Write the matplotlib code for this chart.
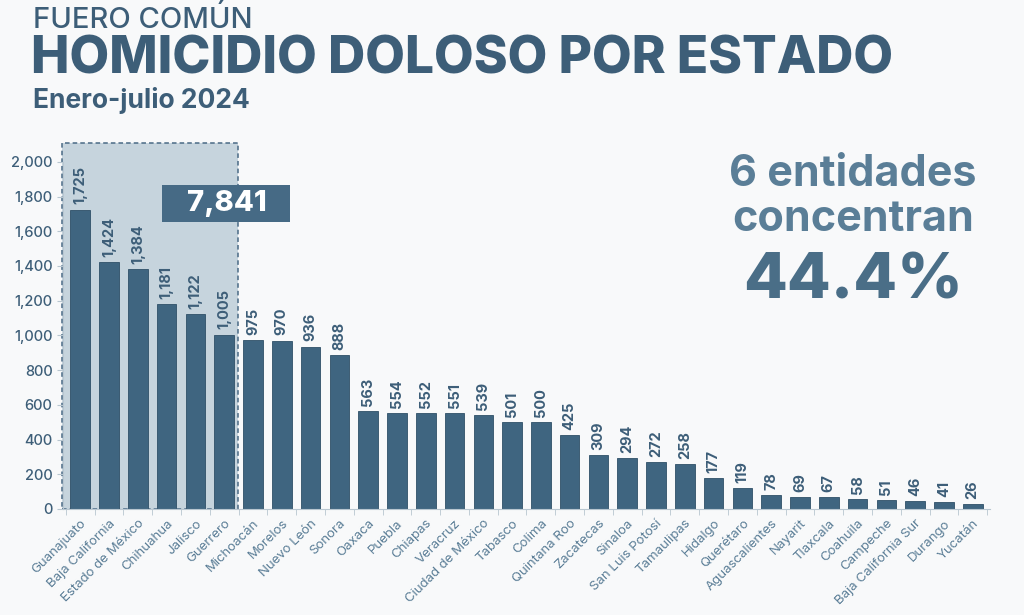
import matplotlib
matplotlib.use("Agg")
import matplotlib.pyplot as plt
from matplotlib.patches import Rectangle
import numpy as np

STATES = [
    "Guanajuato", "Baja California", "Estado de México", "Chihuahua", "Jalisco",
    "Guerrero", "Michoacán", "Morelos", "Nuevo León", "Sonora", "Oaxaca", "Puebla",
    "Chiapas", "Veracruz", "Ciudad de México", "Tabasco", "Colima", "Quintana Roo",
    "Zacatecas", "Sinaloa", "San Luis Potosí", "Tamaulipas", "Hidalgo", "Querétaro",
    "Aguascalientes", "Nayarit", "Tlaxcala", "Coahuila", "Campeche",
    "Baja California Sur", "Durango", "Yucatán",
]
VICTIMS = [
    1725, 1424, 1384, 1181, 1122, 1005, 975, 970, 936, 888, 563, 554,
    552, 551, 539, 501, 500, 425, 309, 294, 272, 258, 177, 119,
    78, 69, 67, 58, 51, 46, 41, 26,
]
TOP_N = 6
TOP_TOTAL = "7,841"
TOP_SHARE = "44.4%"

BAR_COLOR = "#3f6580"
TEXT_DARK = "#3d5e78"
TEXT_LIGHT = "#5a7d96"

plt.rcParams["font.family"] = ["Inter", "DejaVu Sans"]

fig = plt.figure(figsize=(10.24, 6.15), dpi=100, facecolor="#f8f9fa")
ax = fig.add_axes([63 / 1024, 1 - 509 / 615, (990 - 63) / 1024, (509 - 141) / 615])
ax.set_facecolor("none")

x = np.arange(len(STATES))
ax.set_xlim(-0.6, len(STATES) - 0.4)
ax.set_ylim(0, 2120)

# highlight of the top states
ax.add_patch(Rectangle((-0.62, 0), TOP_N + 0.1, 2110, facecolor="#c6d4dd",
                       edgecolor="#4a6a85", linestyle=(0, (3, 2)), linewidth=1.1,
                       zorder=0, clip_on=False))

bars = ax.bar(x, VICTIMS, width=0.68, color=BAR_COLOR, edgecolor="#2f5068",
              linewidth=0.6, zorder=2)
for xi, v in zip(x, VICTIMS):
    ax.text(xi, v + 30, f"{v:,}", rotation=90, ha="center", va="bottom",
            fontsize=10.5, fontweight="bold", color=TEXT_DARK, zorder=3)

# total box for the top states
ax.add_patch(Rectangle((2.85, 1655), 4.45, 212, facecolor="#466a85",
                       edgecolor="none", zorder=4))
ax.text(2.85 + 4.45 / 2, 1655 + 106, TOP_TOTAL, ha="center", va="center",
        fontsize=21, fontweight="heavy", color="white", zorder=5)

ax.set_yticks(np.arange(0, 2001, 200))
ax.set_yticklabels([f"{t:,}" for t in range(0, 2001, 200)])
ax.set_xticks(x)
ax.set_xticklabels(STATES, rotation=45, ha="right", rotation_mode="anchor",
                   fontsize=9.5, color=TEXT_LIGHT)
ax.set_xticks(np.arange(-0.5, len(STATES), 1), minor=True)
ax.tick_params(axis="x", which="major", length=0, pad=6)
ax.tick_params(axis="x", which="minor", length=4, color="#b8c6d0")
ax.tick_params(axis="y", length=4, color="#b8c6d0", labelsize=10.5,
               labelcolor=TEXT_DARK)
for lab in ax.get_yticklabels():
    lab.set_fontweight("medium")

for s in ["top", "right"]:
    ax.spines[s].set_visible(False)
ax.spines["left"].set_bounds(0, 2000)
ax.spines["left"].set_color("#b8c6d0")
ax.spines["bottom"].set_color("#b8c6d0")

# titles
fig.text(33 / 1024, 1 - 20 / 615, "FUERO COMÚN", fontsize=21, fontweight="medium",
         color=TEXT_DARK, va="center", ha="left")
fig.text(31 / 1024, 1 - 60 / 615, "HOMICIDIO DOLOSO POR ESTADO", fontsize=37,
         fontweight="heavy", color=TEXT_DARK, va="center", ha="left")
fig.text(33 / 1024, 1 - 100 / 615, "Enero-julio 2024", fontsize=19,
         fontweight="bold", color=TEXT_DARK, va="center", ha="left")

# side note
fig.text(853 / 1024, 1 - 175 / 615, f"{TOP_N} entidades", fontsize=31,
         fontweight="bold", color="#5a7e97", ha="center", va="center")
fig.text(853 / 1024, 1 - 220 / 615, "concentran", fontsize=31,
         fontweight="bold", color="#5a7e97", ha="center", va="center")
fig.text(853 / 1024, 1 - 282 / 615, TOP_SHARE, fontsize=46,
         fontweight="heavy", color="#4a6e87", ha="center", va="center")

fig.savefig("out.png", dpi=100, facecolor=fig.get_facecolor())
